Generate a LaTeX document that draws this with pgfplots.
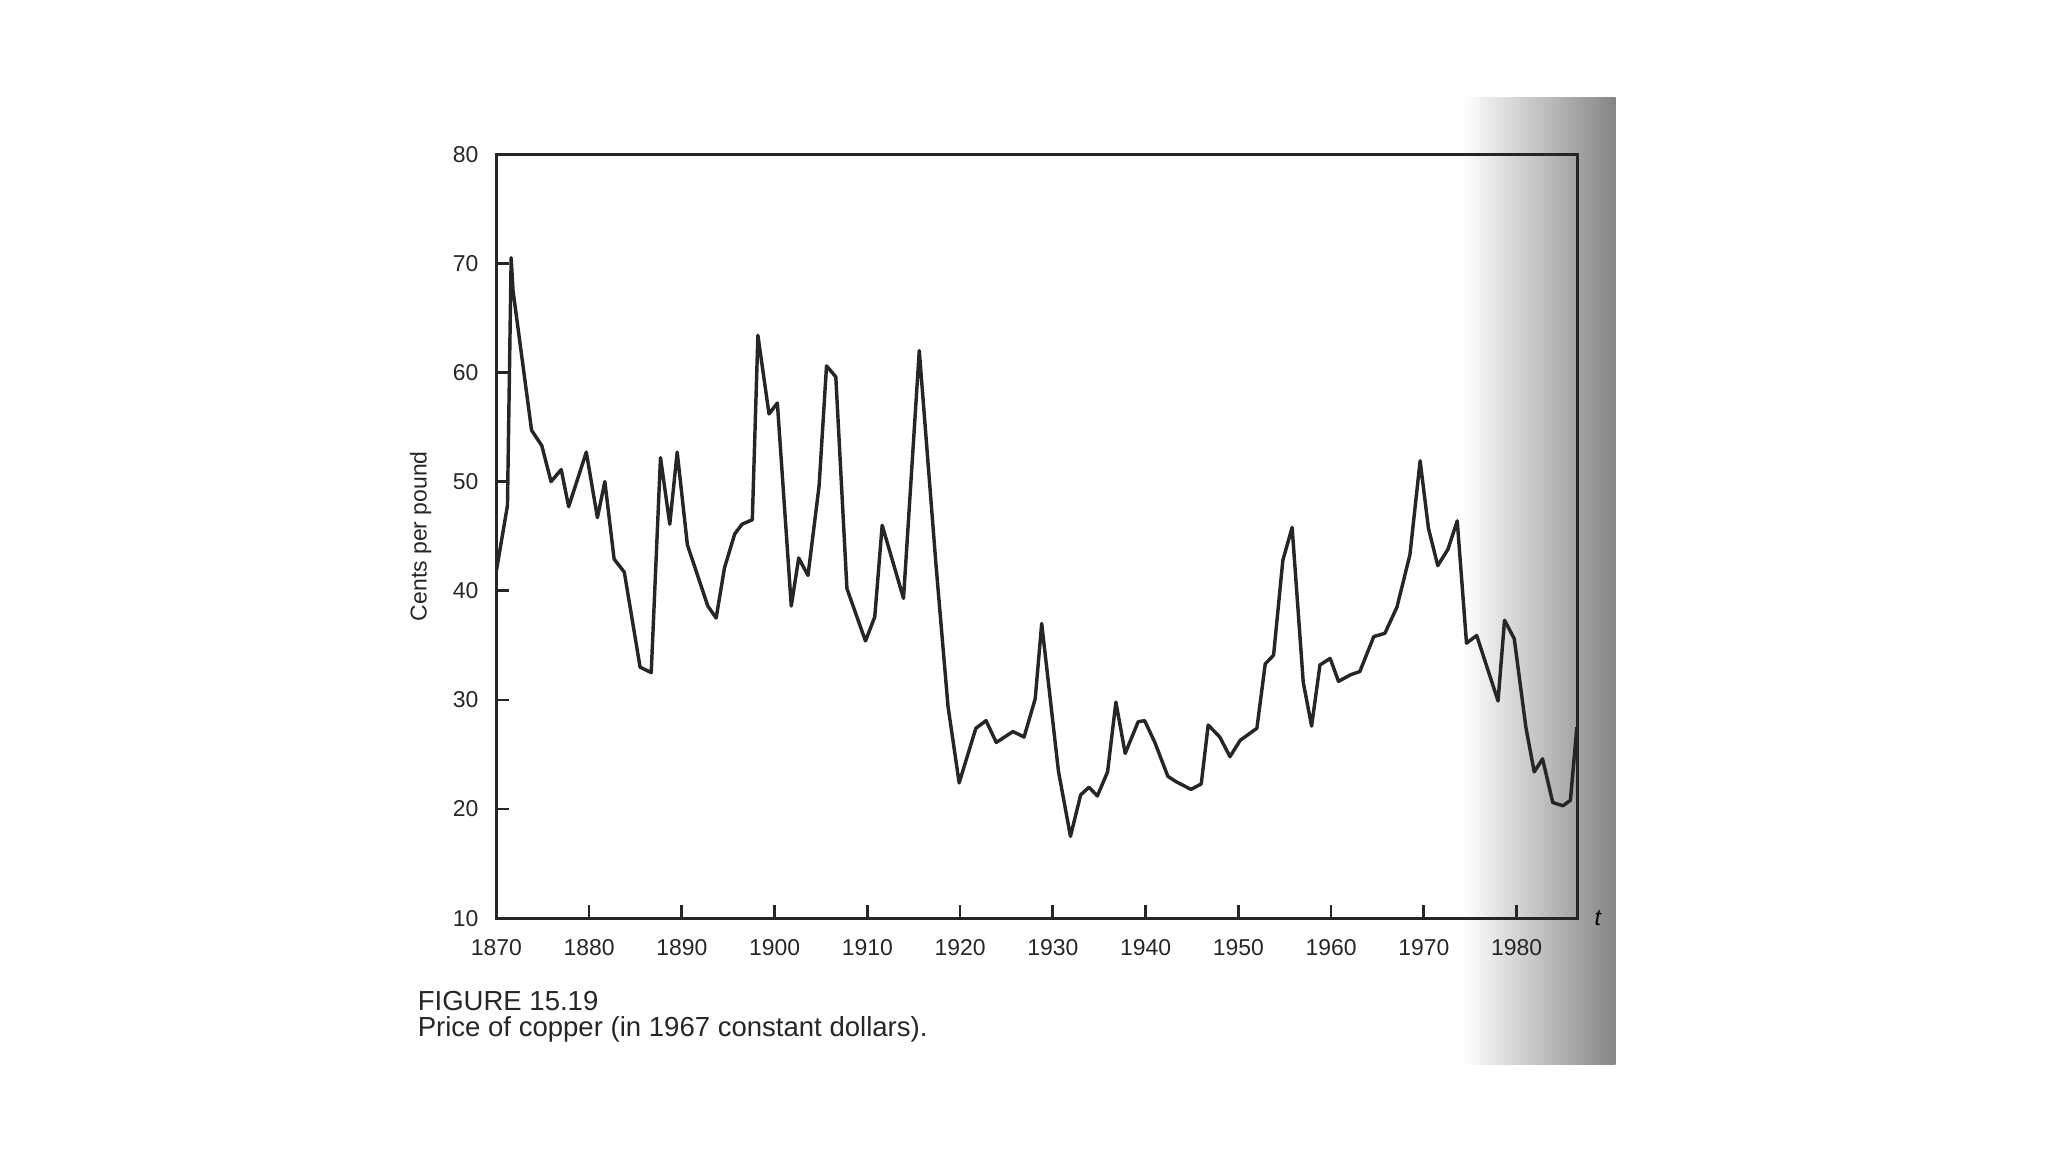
\documentclass[border=0pt]{standalone}
\usepackage{fontspec}
\setmainfont{Liberation Sans}
\usepackage{pgfplots}
\pgfplotsset{compat=1.18}
\begin{document}
\begin{tikzpicture}
\path (-7.6,-3.58) rectangle (23.76,14.06);
\shade[left color=white, right color=black!48] (14.8,-2.24) rectangle (17.14,12.56);
\begin{axis}[
  width=16.56cm, height=11.7cm, scale only axis,
  xmin=1870, xmax=1986.6, ymin=10, ymax=80,
  xtick={1870,1880,...,1980}, ytick={10,20,...,80},
  xtick pos=bottom, ytick pos=left, tick align=inside,
  major tick length=0.2cm,
  /pgf/number format/assume math mode=true,
  x tick label style={/pgf/number format/1000 sep={}, yshift=-0.2cm},
  y tick label style={xshift=-0.15cm},
  tick label style={font=\fontsize{10}{12}\selectfont, text=black!85},
  ylabel={Cents per pound},
  ylabel style={font=\fontsize{10}{12}\selectfont, at={(axis description cs:-0.07,0.5)}, anchor=center, text=black!85},
  xlabel={\textit{t}},
  xlabel style={font=\fontsize{10}{12}\selectfont, at={(axis description cs:1.008,0)}, anchor=west},
  axis line style={line width=1.4pt, black!85},
  every tick/.style={line width=1.2pt, black!85},
]
\addplot[line width=1.5pt, black!85, line join=round] table {
1870.0 41.8
1871.2 47.8
1871.6 70.5
1871.8 67.5
1873.8 54.7
1874.9 53.3
1875.9 50.0
1877.0 51.1
1877.8 47.7
1879.7 52.7
1880.9 46.7
1881.7 50.0
1882.7 42.9
1883.8 41.7
1885.5 33.0
1886.7 32.5
1887.7 52.2
1888.7 46.1
1889.5 52.7
1890.6 44.2
1892.8 38.6
1893.7 37.5
1894.6 42.1
1895.7 45.2
1896.5 46.1
1897.6 46.5
1898.2 63.4
1899.4 56.2
1900.3 57.2
1901.8 38.6
1902.6 43.0
1903.6 41.4
1904.8 49.6
1905.6 60.6
1906.6 59.6
1907.8 40.2
1909.8 35.4
1910.8 37.6
1911.6 46.0
1913.9 39.3
1915.6 62.0
1917.4 42.4
1918.7 29.4
1919.9 22.4
1921.7 27.4
1922.8 28.1
1923.9 26.1
1925.7 27.1
1926.9 26.6
1928.1 30.1
1928.8 37.0
1930.6 23.5
1931.9 17.5
1933.0 21.3
1933.9 22.0
1934.8 21.2
1935.9 23.4
1936.8 29.8
1937.8 25.1
1939.2 28.0
1939.9 28.1
1941.0 26.1
1942.4 23.0
1943.3 22.5
1944.9 21.8
1946.0 22.3
1946.75 27.7
1948.0 26.6
1949.1 24.8
1950.2 26.3
1952.0 27.4
1952.9 33.3
1953.8 34.1
1954.8 42.8
1955.8 45.8
1957.0 31.6
1957.9 27.6
1958.8 33.2
1959.9 33.8
1960.8 31.7
1962.1 32.3
1963.1 32.6
1964.6 35.8
1965.8 36.1
1967.1 38.5
1968.5 43.3
1969.6 51.9
1970.5 45.7
1971.5 42.3
1972.6 43.8
1973.6 46.4
1974.6 35.2
1975.7 35.9
1978.0 29.9
1978.7 37.3
1979.75 35.6
1981.0 27.5
1981.9 23.4
1982.8 24.6
1983.9 20.6
1985.0 20.3
1985.8 20.8
1986.5 27.5
};
\end{axis}
\node[anchor=base west, font=\fontsize{12}{14}\selectfont, text=black!85, inner sep=0pt] at (-1.21,-1.42) {FIGURE 15.19};
\node[anchor=base west, font=\fontsize{12}{14}\selectfont, text=black!85, inner sep=0pt] at (-1.21,-1.81) {Price of copper (in 1967 constant dollars).};
\end{tikzpicture}
\end{document}
